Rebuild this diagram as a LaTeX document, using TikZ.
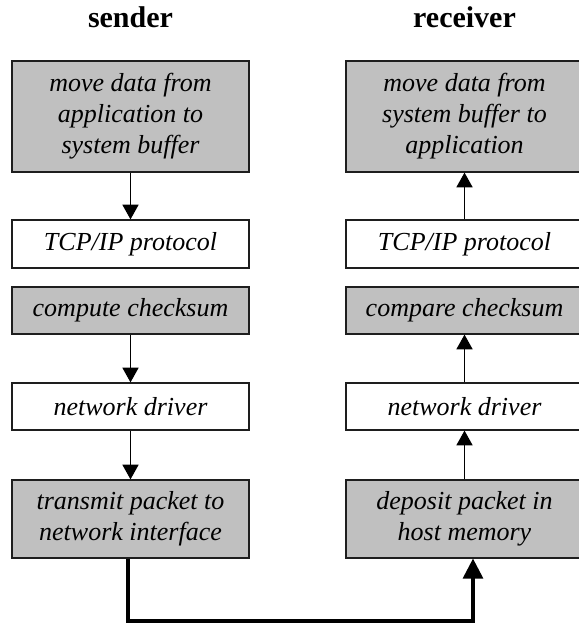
\documentclass[tikz,border=0pt]{standalone}
\usepackage{fontspec}
\setmainfont{Liberation Serif}
\usetikzlibrary{arrows.meta}
\definecolor{boxgray}{RGB}{192,192,192}
\definecolor{edge}{RGB}{30,30,30}
\begin{document}
\begin{tikzpicture}[x=0.75pt,y=-0.75pt,
  box/.style={draw=edge,line width=0.9pt,inner sep=0pt,minimum width=177.75pt,align=center,
    font=\fontsize{19.5}{23.25}\selectfont\itshape},
  shaded/.style={box,fill=boxgray},
  plain/.style={box,fill=white},
  flow/.style={line width=1pt,-{Triangle[width=12pt,length=11pt]}},
  wire/.style={line width=2.3pt,line join=miter,-{Triangle[width=15pt,length=15pt]}},
  head/.style={font=\fontsize{22.5}{27}\selectfont\bfseries,anchor=base}]
\useasboundingbox (0,0) rectangle (578,623);
\node[head] (hs) at (130.5,28) {sender};
\node[head] (hr) at (464.5,28) {receiver};
% sender column
\node[shaded,minimum height=83.25pt] (s1) at (130.5,116.5) {move data from\\application to\\system buffer};
\node[plain,minimum height=36pt] (s2) at (130.5,244) {TCP/IP protocol};
\node[shaded,minimum height=35.25pt] (s3) at (130.5,310.5) {compute checksum};
\node[plain,minimum height=35.25pt] (s4) at (130.5,406.5) {network driver};
\node[shaded,minimum height=58.5pt] (s5) at (130.5,519) {transmit packet to\\network interface};
% receiver column
\node[shaded,minimum height=83.25pt] (r1) at (464.5,116.5) {move data from\\system buffer to\\application};
\node[plain,minimum height=36pt] (r2) at (464.5,244) {TCP/IP protocol};
\node[shaded,minimum height=35.25pt] (r3) at (464.5,310.5) {compare checksum};
\node[plain,minimum height=35.25pt] (r4) at (464.5,406.5) {network driver};
\node[shaded,minimum height=58.5pt] (r5) at (464.5,519) {deposit packet in\\host memory};
% arrows
\draw[flow] (s1) -- (s2);
\draw[flow] (s3) -- (s4);
\draw[flow] (s4) -- (s5);
\draw[flow] (r2) -- (r1);
\draw[flow] (r4) -- (r3);
\draw[flow] (r5) -- (r4);
% wire
\coordinate (wl) at (128,621);
\coordinate (wr) at (473,621);
\draw[wire] (s5.south -| wl) -- (wl) -- (wr) -- (r5.south -| wr);
\end{tikzpicture}
\end{document}
